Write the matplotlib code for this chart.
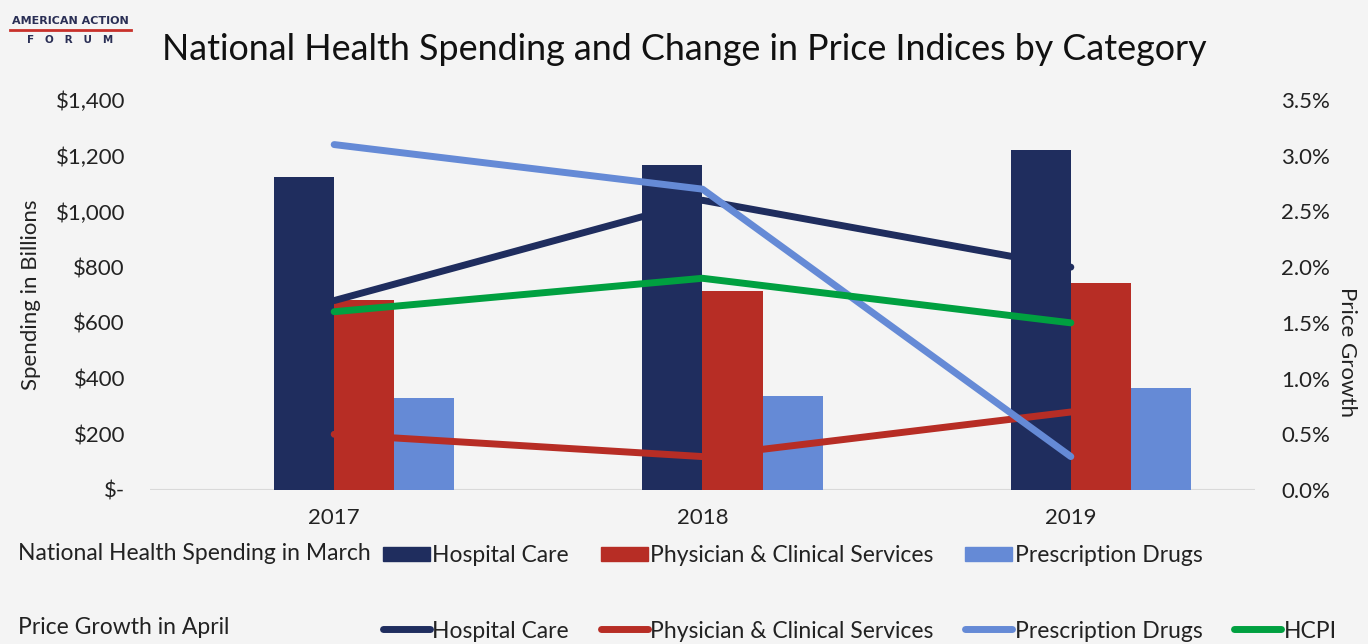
import numpy as np
import matplotlib
matplotlib.use("Agg")
import matplotlib.pyplot as plt
from matplotlib.lines import Line2D
from matplotlib.patches import Patch

plt.rcParams['font.family'] = ['Lato', 'DejaVu Sans']

# ****data****
years = ["2017", "2018", "2019"]
spend_hospital = [1124, 1167, 1220]
spend_physician = [682, 715, 744]
spend_drugs = [330, 337, 366]
growth_hospital = [1.7, 2.6, 2.0]
growth_physician = [0.5, 0.3, 0.7]
growth_drugs = [3.1, 2.7, 0.3]
growth_hcpi = [1.6, 1.9, 1.5]

left_ticks = [0, 200, 400, 600, 800, 1000, 1200, 1400]
left_labels = ["$-", "$200", "$400", "$600", "$800", "$1,000", "$1,200", "$1,400"]
right_ticks = [0, 0.5, 1.0, 1.5, 2.0, 2.5, 3.0, 3.5]
right_labels = ["0.0%", "0.5%", "1.0%", "1.5%", "2.0%", "2.5%", "3.0%", "3.5%"]

navy = "#1f2d5e"
red = "#b72d25"
blue = "#658ad6"
green = "#00a040"
bg = "#f4f4f4"
txt = "#222222"

# ****figure****
fig = plt.figure(figsize=(13.68, 6.44), dpi=100, facecolor=bg)
ax = fig.add_axes([150/1368, 1-490/644, 1105/1368, 390/644])
ax.set_facecolor(bg)

x = np.arange(len(years))
w = 0.163
# four bar slots per year, first one is empty (HCPI has no spending)
ax.bar(x - 0.5*w, spend_hospital, w, color=navy, zorder=2)
ax.bar(x + 0.5*w, spend_physician, w, color=red, zorder=2)
ax.bar(x + 1.5*w, spend_drugs, w, color=blue, zorder=2)

ax.set_xlim(-0.5, 2.5)
ax.set_ylim(0, 1400)
ax.set_yticks(left_ticks)
ax.set_yticklabels(left_labels)
ax.set_xticks(x)
ax.set_xticklabels(years)
ax.tick_params(axis='y', length=0, pad=18, labelsize=16, colors=txt)
ax.tick_params(axis='x', length=0, pad=13, labelsize=16, colors=txt)
for s in ax.spines.values():
    s.set_visible(False)
ax.axhline(0, color="#d9d9d9", lw=1.5, zorder=1)
ax.set_ylabel("Spending in Billions", fontsize=16, color=txt, va='center')
ax.yaxis.set_label_coords(-0.108, 0.5)

ax2 = ax.twinx()
ax2.set_ylim(0, 3.5)
ax2.set_yticks(right_ticks)
ax2.set_yticklabels(right_labels)
ax2.tick_params(axis='y', length=0, pad=19, labelsize=16, colors=txt)
for s in ax2.spines.values():
    s.set_visible(False)
lw = 5
ax2.plot(x, growth_hospital, color=navy, lw=lw, solid_capstyle='round')
ax2.plot(x, growth_physician, color=red, lw=lw, solid_capstyle='round')
ax2.plot(x, growth_drugs, color=blue, lw=lw, solid_capstyle='round')
ax2.plot(x, growth_hcpi, color=green, lw=lw, solid_capstyle='round')
ax2.set_ylabel("Price Growth", fontsize=16, color=txt, rotation=270, va='center')
ax2.yaxis.set_label_coords(1.083, 0.354)

# ****title and logo****
fig.text(0.5, 1-50/644, "National Health Spending and Change in Price Indices by Category",
         ha='center', va='center', fontsize=25.8, color="#111111")
fig.text(70/1368, 1-21/644, "AMERICAN ACTION", ha='center', va='center',
         fontsize=8, fontweight='bold', color="#2a2f55", family='DejaVu Sans')
fig.add_artist(Line2D([10/1368, 131/1368], [1-30/644, 1-30/644], color="#c8312b", lw=2))
fig.text(70/1368, 1-40/644, "F   O   R   U   M", ha='center', va='center',
         fontsize=7.5, fontweight='bold', color="#2a2f55", family='DejaVu Sans')

# ****legends****
fig.text(18/1368, 1-553/644, "National Health Spending in March", ha='left', va='center',
         fontsize=16.5, color=txt)
fig.text(18/1368, 1-628/644, "Price Growth in April", ha='left', va='center',
         fontsize=16.5, color=txt)

bar_handles = [Patch(color=navy), Patch(color=red), Patch(color=blue)]
line_handles = [Line2D([], [], color=c, lw=lw, solid_capstyle='round') for c in (navy, red, blue, green)]
names = ["Hospital Care", "Physician & Clinical Services", "Prescription Drugs"]

leg1 = fig.legend(bar_handles, names, ncol=3, loc='center left',
                  bbox_to_anchor=(362/1368, 1-556/644), frameon=False, fontsize=16.5,
                  handlelength=2.05, handleheight=0.55, handletextpad=0.1, columnspacing=1.4,
                  labelcolor=txt)
leg2 = fig.legend(line_handles, names + ["HCPI"], ncol=4, loc='center left',
                  bbox_to_anchor=(362/1368, 1-631/644), frameon=False, fontsize=16.5,
                  handlelength=2.05, handletextpad=0.1, columnspacing=1.4,
                  labelcolor=txt)

fig.savefig("out.png", dpi=100, facecolor=bg)
